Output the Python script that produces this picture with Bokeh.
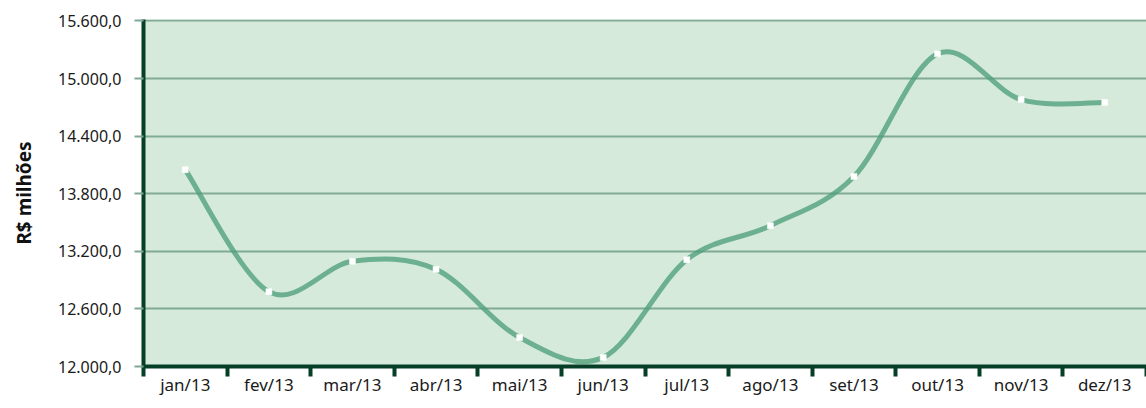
import numpy as np
from bokeh.plotting import figure
from bokeh.models import FixedTicker, Range1d
from bokeh.embed import file_html
from bokeh.resources import INLINE

months = ["jan/13", "fev/13", "mar/13", "abr/13", "mai/13", "jun/13",
          "jul/13", "ago/13", "set/13", "out/13", "nov/13", "dez/13"]
values = [14050, 12780, 13096, 13012, 12302, 12095,
          13113, 13467, 13980, 15257, 14781, 14750]
yticks = [12000, 12600, 13200, 13800, 14400, 15000, 15600]
ytick_labels = ["12.000,0", "12.600,0", "13.200,0", "13.800,0",
                "14.400,0", "15.000,0", "15.600,0"]

n = len(months)
xs = np.arange(n) + 0.5
ys = np.array(values, dtype=float)

# smoothed line (Catmull-Rom -> cubic Bezier), computed from the data
xp = np.concatenate([[xs[0]], xs, [xs[-1]]])
yp = np.concatenate([[ys[0]], ys, [ys[-1]]])
x0 = xs[:-1]; y0 = ys[:-1]; x1 = xs[1:]; y1 = ys[1:]
cx0 = x0 + (xp[2:n+1] - xp[0:n-1]) / 6.0
cy0 = y0 + (yp[2:n+1] - yp[0:n-1]) / 6.0
cx1 = x1 - (xp[3:n+2] - xp[1:n]) / 6.0
cy1 = y1 - (yp[3:n+2] - yp[1:n]) / 6.0

p = figure(output_backend="svg", toolbar_location=None,
           frame_width=1003, frame_height=347,
           min_border_left=143, min_border_top=19, min_border_right=0,
           min_border_bottom=30,
           x_range=Range1d(0, n), y_range=Range1d(12000, 15615))
p.background_fill_color = "#d5eadb"
p.border_fill_color = "white"
p.outline_line_color = None

p.bezier(x0=x0, y0=y0, x1=x1, y1=y1, cx0=cx0, cy0=cy0, cx1=cx1, cy1=cy1,
         line_color="#4e9f7b", line_alpha=0.78, line_width=5, line_cap="round")
p.scatter(xs, ys, marker="square", size=6, fill_color="white",
          line_color="white", line_width=0.5)

# x axis
p.xaxis.ticker = FixedTicker(ticks=list(xs), minor_ticks=list(range(n + 1)))
p.xaxis.major_label_overrides = {float(x): m for x, m in zip(xs, months)}
p.xaxis.major_tick_out = 0
p.xaxis.major_tick_in = 0
p.xaxis.minor_tick_out = 10
p.xaxis.minor_tick_in = 0
p.xaxis.minor_tick_line_width = 4
p.xaxis.minor_tick_line_color = "#063f27"
p.xaxis.axis_line_color = "#063f27"
p.xaxis.axis_line_width = 4
p.xaxis.major_label_text_font = "Noto Sans"
p.xaxis.major_label_text_font_size = "17px"
p.xaxis.major_label_text_color = "#1a1a1a"
p.xaxis.major_label_standoff = -4
p.xgrid.grid_line_color = None

# y axis
p.yaxis.ticker = FixedTicker(ticks=yticks, minor_ticks=[])
p.yaxis.major_label_overrides = {t: l for t, l in zip(yticks, ytick_labels)}
p.yaxis.major_tick_out = 9
p.yaxis.major_tick_in = 0
p.yaxis.major_tick_line_width = 2
p.yaxis.major_tick_line_color = "#80a898"
p.yaxis.axis_line_color = "#063f27"
p.yaxis.axis_line_width = 4
p.yaxis.major_label_text_font = "Noto Sans"
p.yaxis.major_label_text_font_size = "16px"
p.yaxis.major_label_text_color = "#1a1a1a"
p.yaxis.major_label_standoff = 13
p.yaxis.axis_label = "R$ milhões"
p.yaxis.axis_label_text_font = "Noto Sans"
p.yaxis.axis_label_text_font_size = "19px"
p.yaxis.axis_label_text_font_style = "bold"
p.yaxis.axis_label_text_color = "#111111"
p.yaxis.axis_label_standoff = 18

p.ygrid.grid_line_color = "#2d6e4e"
p.ygrid.grid_line_alpha = 0.5
p.ygrid.grid_line_width = 2

open("out.html", "w").write(file_html(p, INLINE))
